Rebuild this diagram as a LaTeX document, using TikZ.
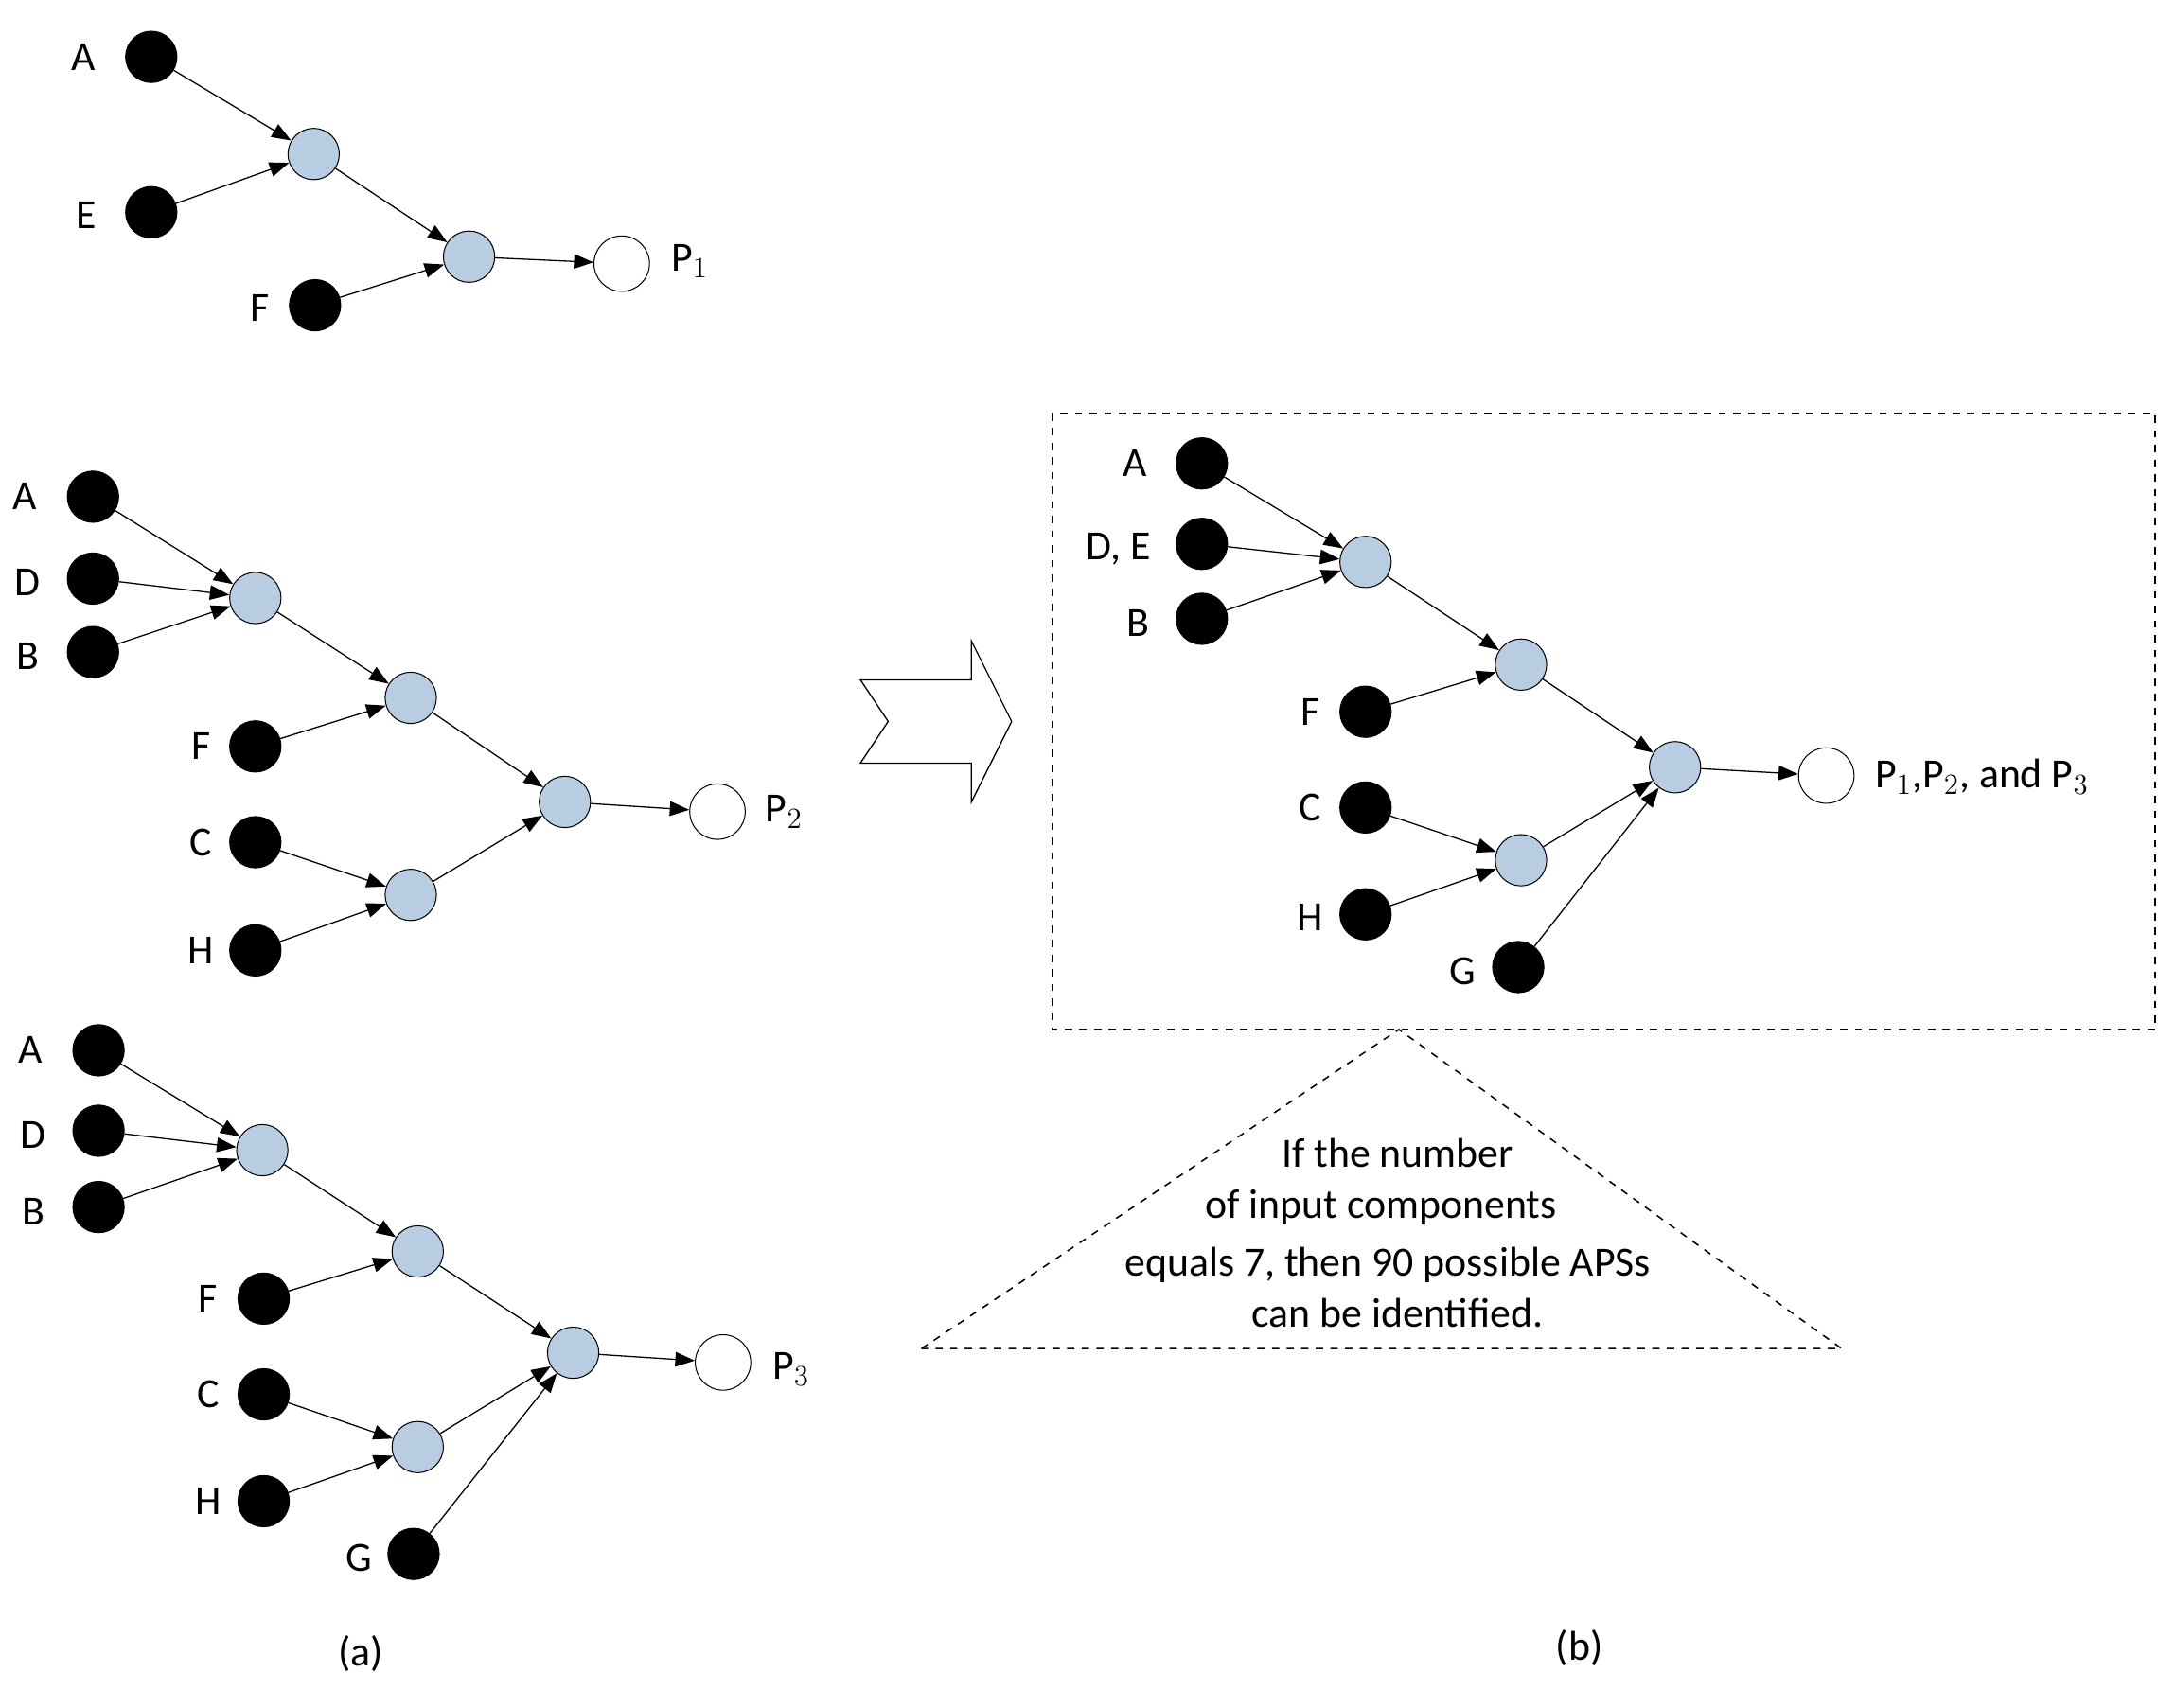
\documentclass[tikz,border=0pt]{standalone}
\usepackage{fontspec}
\setmainfont{Carlito}
\usetikzlibrary{arrows.meta}
\definecolor{nb}{RGB}{185,205,226}
\begin{document}
\begin{tikzpicture}[x=0.02cm,y=-0.02cm,
 blk/.style={circle,fill=black,draw=black,minimum size=0.74cm,inner sep=0},
 blu/.style={circle,fill=nb,draw=black,line width=0.4pt,minimum size=0.74cm,inner sep=0},
 wht/.style={circle,fill=white,draw=black,minimum size=0.8cm,inner sep=0},
 lb/.style={font=\fontsize{17}{20}\selectfont},
 ar/.style={-{Triangle[length=8pt,width=6pt]},line width=0.5pt}]
\useasboundingbox (0,0) rectangle (1568,1231);
% top graph
\node[blk] (ta) at (109,41) {}; \node[lb] (tla) at (60,41) {A};
\node[blk] (te) at (109,153) {}; \node[lb] (tle) at (62,155) {E};
\node[blk] (tf) at (227,220) {}; \node[lb] (tlf) at (187,222) {F};
\node[blu] (t1) at (226,111) {}; \node[blu] (t2) at (338,185) {};
\node[wht] (tp) at (448,190) {}; \node[lb] (tlp) at (497,188) {P$_1$};
\draw[ar] (ta)--(t1); \draw[ar] (te)--(t1); \draw[ar] (t1)--(t2); \draw[ar] (tf)--(t2); \draw[ar] (t2)--(tp);
% middle graph
\node[blk] (ma) at (67,358) {}; \node[lb] (mla) at (18,358) {A};
\node[blk] (md) at (67,417) {}; \node[lb] (mld) at (20,420) {D};
\node[blk] (mb) at (67,470) {}; \node[lb] (mlb) at (20,473) {B};
\node[blk] (mf) at (184,538) {}; \node[lb] (mlf) at (145,538) {F};
\node[blk] (mc) at (184,607) {}; \node[lb] (mlc) at (145,607) {C};
\node[blk] (mh) at (184,685) {}; \node[lb] (mlh) at (145,685) {H};
\node[blu] (m1) at (184,431) {}; \node[blu] (m2) at (296,503) {};
\node[blu] (m3) at (296,645) {}; \node[blu] (m4) at (407,578) {};
\node[wht] (mp) at (517,585) {}; \node[lb] (mlp) at (565,585) {P$_2$};
\draw[ar] (ma)--(m1); \draw[ar] (md)--(m1); \draw[ar] (mb)--(m1); \draw[ar] (m1)--(m2); \draw[ar] (mf)--(m2);
\draw[ar] (mc)--(m3); \draw[ar] (mh)--(m3); \draw[ar] (m2)--(m4); \draw[ar] (m3)--(m4); \draw[ar] (m4)--(mp);
% bottom graph
\node[blk] (ba) at (71,757) {}; \node[lb] (bla) at (22,757) {A};
\node[blk] (bd) at (71,815) {}; \node[lb] (bld) at (24,818) {D};
\node[blk] (bb) at (71,870) {}; \node[lb] (blb) at (24,873) {B};
\node[blk] (bf) at (190,936) {}; \node[lb] (blf) at (150,936) {F};
\node[blk] (bc) at (190,1005) {}; \node[lb] (blc) at (150,1005) {C};
\node[blk] (bh) at (190,1082) {}; \node[lb] (blh) at (150,1082) {H};
\node[blk] (bg) at (298,1120) {}; \node[lb] (blg) at (259,1123) {G};
\node[blu] (b1) at (189,829) {}; \node[blu] (b2) at (301,902) {};
\node[blu] (b3) at (301,1043) {}; \node[blu] (b4) at (413,975) {};
\node[wht] (bp) at (521,982) {}; \node[lb] (blp) at (570,987) {P$_3$};
\draw[ar] (ba)--(b1); \draw[ar] (bd)--(b1); \draw[ar] (bb)--(b1); \draw[ar] (b1)--(b2); \draw[ar] (bf)--(b2);
\draw[ar] (bc)--(b3); \draw[ar] (bh)--(b3); \draw[ar] (b2)--(b4); \draw[ar] (b3)--(b4); \draw[ar] (bg)--(b4); \draw[ar] (b4)--(bp);
\node[lb] (la) at (260,1192) {(a)};
\node[lb] (lbb) at (1138,1188) {(b)};
% big arrow
\draw[line width=0.5pt] (620,490)--(700,490)--(700,462)--(729,520)--(700,578)--(700,550)--(620,550)--(640,520)--cycle;
% right box
\draw[dashed,line width=0.6pt] (758,298) rectangle (1553,742);
\node[blk] (ra) at (866,334) {}; \node[lb] (rla) at (818,334) {A};
\node[blk] (rd) at (866,392) {}; \node[lb] (rld) at (806,396) {D, E};
\node[blk] (rb) at (866,446) {}; \node[lb] (rlb) at (820,449) {B};
\node[blk] (rf) at (984,513) {}; \node[lb] (rlf) at (944,513) {F};
\node[blk] (rc) at (984,582) {}; \node[lb] (rlc) at (944,582) {C};
\node[blk] (rh) at (984,659) {}; \node[lb] (rlh) at (944,661) {H};
\node[blk] (rg) at (1094,697) {}; \node[lb] (rlg) at (1054,700) {G};
\node[blu] (r1) at (984,405) {}; \node[blu] (r2) at (1096,479) {};
\node[blu] (r3) at (1096,620) {}; \node[blu] (r4) at (1207,553) {};
\node[wht] (rp) at (1316,559) {}; \node[lb,anchor=west] (rlp) at (1345,560) {P$_1$,P$_2$, and P$_3$};
\draw[ar] (ra)--(r1); \draw[ar] (rd)--(r1); \draw[ar] (rb)--(r1); \draw[ar] (r1)--(r2); \draw[ar] (rf)--(r2);
\draw[ar] (rc)--(r3); \draw[ar] (rh)--(r3); \draw[ar] (r2)--(r4); \draw[ar] (r3)--(r4); \draw[ar] (rg)--(r4); \draw[ar] (r4)--(rp);
% triangle
\draw[dashed,line width=0.6pt] (664,972)--(1008,742)--(1327,972)--cycle;
\node[lb] (t1l) at (1007,831) {If the number};
\node[lb] (t2l) at (995,870) {of input components};
\node[lb] (t3l) at (1000,912) {equals 7, then 90 possible APSs};
\node[lb] (t4l) at (1007,946) {can be identified.};
\end{tikzpicture}
\end{document}
